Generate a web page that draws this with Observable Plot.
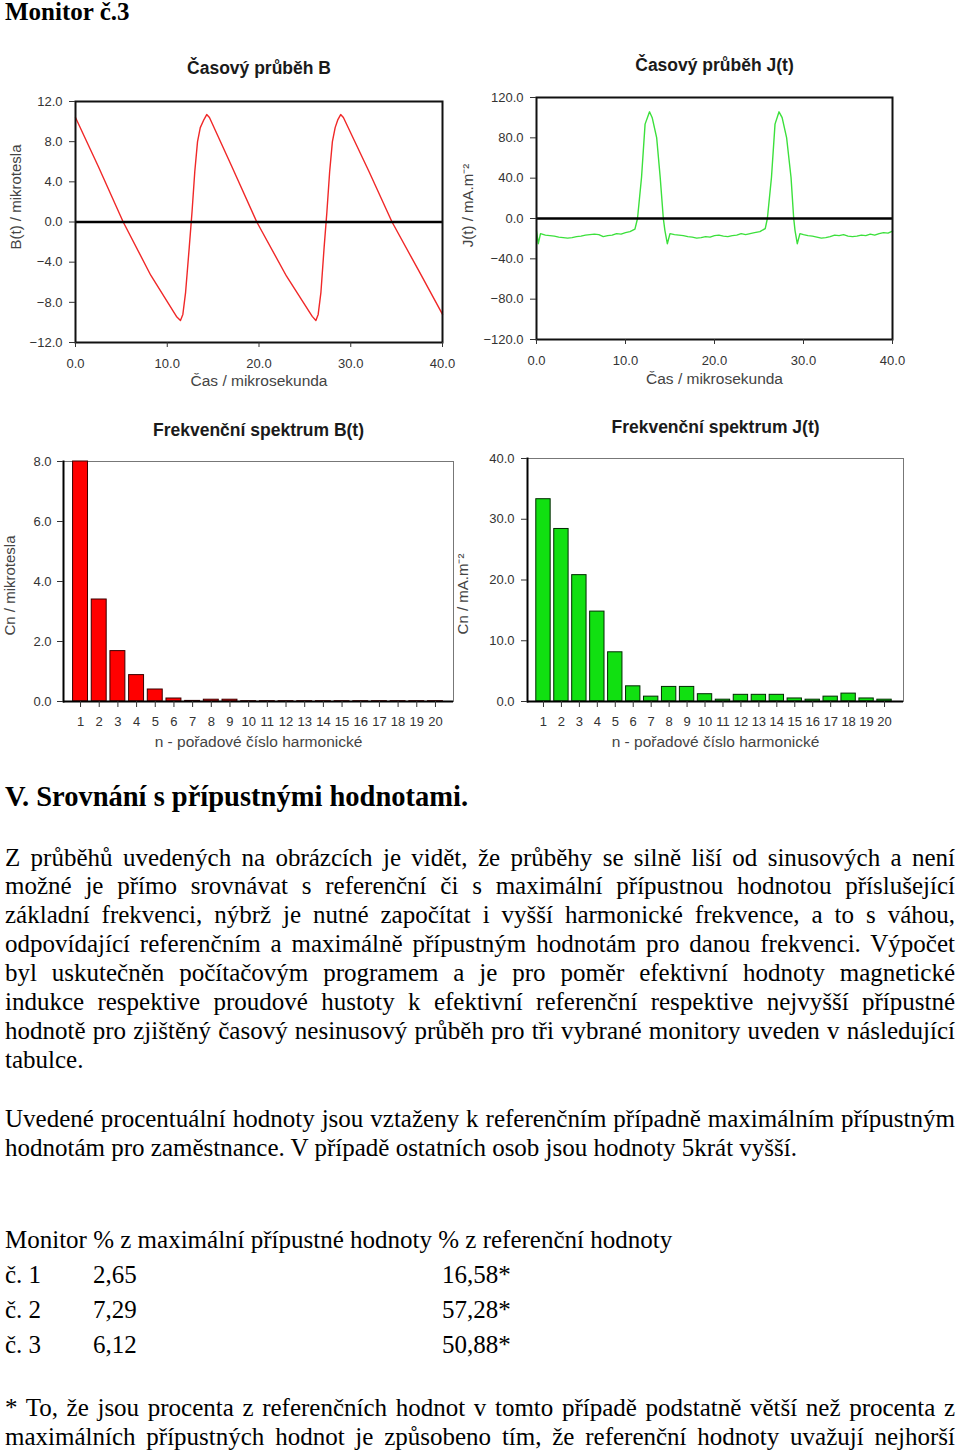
<!DOCTYPE html>
<html><head><meta charset="utf-8">
<script src="https://cdn.jsdelivr.net/npm/d3@7"></script>
<script src="https://cdn.jsdelivr.net/npm/@observablehq/plot@0.6"></script>
<style>
html,body{margin:0;padding:0;background:#fff}
body{width:960px;height:1451px;overflow:hidden;position:relative;font-family:"Liberation Serif","Times New Roman",serif;color:#000}
.chart{position:absolute}
.ln{position:absolute;left:5px;width:950px;font-size:25px;line-height:29px;height:29px;white-space:nowrap}
.j{text-align:justify;text-align-last:justify}
.b{font-weight:bold}
</style></head><body>
<div id="root"></div>
<script>
// ---------- data ----------
const bTime  = [0, 2.5, 5.2, 8.2, 11.0, 11.44, 11.7, 12.0, 12.4, 12.7, 13.0, 13.3, 13.6, 14.0, 14.3, 14.6, 17.0, 19.76, 23.0, 25.8, 26.2, 26.45, 26.75, 27.1, 27.4, 27.7, 28.0, 28.3, 28.6, 28.9, 29.2, 32.0, 34.5, 37.5, 40];
const bValue = [10.4, 5.5, 0, -5.3, -9.4, -9.8, -9.2, -7.0, -2.5, 1.0, 5.0, 8.0, 9.4, 10.2, 10.7, 10.4, 5.6, 0, -5.4, -9.4, -9.8, -9.2, -7.0, -2.5, 1.0, 5.0, 8.0, 9.4, 10.2, 10.7, 10.4, 5.0, 0, -5.0, -9.2];

const jTime  = [0, 0.2, 0.45, 1.0, 1.5, 2.0, 2.5, 3.0, 3.5, 4.0, 4.5, 5.0, 5.5, 6.0, 6.5, 7.0, 7.5, 8.0, 8.5, 9.0, 9.5, 10.0, 10.5, 11.06, 11.35, 11.8, 12.2, 12.7, 13.0, 13.5, 13.9, 14.25, 14.43, 14.7, 15.0, 15.5, 16.0, 16.5, 17.0, 17.5, 18.0, 18.5, 19.0, 19.5, 20.0, 20.5, 21.0, 21.5, 22.0, 22.5, 23.0, 23.5, 24.0, 24.5, 25.1, 25.7, 25.94, 26.4, 26.8, 27.25, 27.6, 28.1, 28.6, 28.9, 29.05, 29.3, 29.6, 30.0, 30.5, 31.0, 31.5, 32.0, 32.5, 33.0, 33.5, 34.0, 34.5, 35.0, 35.5, 36.0, 36.5, 37.0, 37.5, 38.0, 38.5, 39.0, 39.5, 40];
const jValue = [-12, -25, -15, -16.5, -17, -17.5, -18.5, -19, -19.5, -19, -18, -17.5, -16.5, -16, -15.5, -16, -18, -17, -16.5, -15, -15.5, -14, -13, -10.5, 0, 40.7, 93.6, 105.8, 100, 80.3, 40.7, 0, -12, -25, -15, -16, -16.5, -17, -18, -18.5, -19.5, -19, -18, -18.5, -17, -16.5, -17.5, -18, -17, -16.5, -15, -16, -15, -14, -13, -10, 0, 40.7, 93.6, 105.8, 100, 80.3, 40.7, 0, -12, -25, -15, -16, -17, -17.5, -18.5, -19.5, -19, -18, -16.5, -17, -16, -17.5, -18, -17.5, -16.5, -17, -15.5, -16.5, -15, -14, -14.5, -12.5];

const harmonics = d3.range(1, 21);
const cnB = [8.0, 3.4, 1.68, 0.88, 0.4, 0.1, 0.02, 0.06, 0.06, 0.01, 0.01, 0.01, 0.01, 0.01, 0.01, 0.01, 0.01, 0.01, 0.01, 0.01];
const cnJ = [33.3, 28.4, 20.8, 14.8, 8.1, 2.5, 0.8, 2.4, 2.4, 1.2, 0.3, 1.1, 1.1, 1.1, 0.5, 0.3, 0.8, 1.3, 0.5, 0.3];

const timeTicks = [0, 10, 20, 30, 40];
const bTicks = [-12, -8, -4, 0, 4, 8, 12];
const jTicks = [-120, -80, -40, 0, 40, 80, 120];
const cnBTicks = [0, 2, 4, 6, 8];
const cnJTicks = [0, 10, 20, 30, 40];

const titles = ["Časový průběh B", "Časový průběh J(t)", "Frekvenční spektrum B(t)", "Frekvenční spektrum J(t)"];
const yLabels = ["B(t) / mikrotesla", "J(t) / mA.m⁻²", "Cn / mikrotesla", "Cn / mA.m⁻²"];
const xLabels = ["Čas / mikrosekunda", "Čas / mikrosekunda", "n - pořadové číslo harmonické", "n - pořadové číslo harmonické"];

// ---------- helpers ----------
const fmt = d3.format(".1f");
const style = {fontFamily: "'Liberation Sans', Arial, sans-serif", fontSize: "13px", color: "#333", background: "transparent", overflow: "visible"};
const root = document.getElementById("root");
function place(el, left, top) {
  const d = document.createElement("div");
  d.className = "chart"; d.style.left = left + "px"; d.style.top = top + "px";
  d.appendChild(el); root.appendChild(d);
}
function labels(i, o) {
  return [
    Plot.text([titles[i]], {text: d => d, frameAnchor: "top", lineAnchor: "middle", textAnchor: "middle", dy: o.tdy, fontWeight: "bold", fontSize: 17.5, fill: "#1a1a1a"}),
    Plot.text([yLabels[i]], {text: d => d, frameAnchor: "left", lineAnchor: "middle", textAnchor: "middle", rotate: -90, dx: o.ydx, dy: o.ydy, fontSize: 15, fill: "#444"}),
    Plot.text([xLabels[i]], {text: d => d, frameAnchor: "bottom", lineAnchor: "middle", textAnchor: "middle", dy: o.xdy, fontSize: 15.5, fill: "#444"})
  ];
}

// ---------- chart 1: B(t) ----------
const bData = bTime.map((t, i) => ({t, v: bValue[i]}));
place(Plot.plot({
  width: 470, height: 360, marginLeft: 75, marginRight: 28, marginTop: 61, marginBottom: 58,
  style,
  x: {domain: [0, 40]}, y: {domain: [-12, 12]},
  marks: [
    Plot.line(bData, {x: "t", y: "v", stroke: "#f02828", strokeWidth: 1.4}),
    Plot.ruleY([0], {stroke: "#000", strokeWidth: 2.5}),
    Plot.frame({stroke: "#111", strokeWidth: 2}),
    Plot.axisX({ticks: timeTicks, tickFormat: fmt, tickSize: 5, tickPadding: 11, label: null}),
    Plot.axisY({ticks: bTicks, tickFormat: fmt, tickSize: 6, tickPadding: 7, label: null}),
    ...labels(0, {tdy: -33, ydx: -59, ydy: -25, xdy: 39})
  ]
}), 0, 40);

// ---------- chart 2: J(t) ----------
const jData = jTime.map((t, i) => ({t, v: jValue[i]}));
place(Plot.plot({
  width: 460, height: 360, marginLeft: 66, marginRight: 38, marginTop: 57, marginBottom: 61,
  style,
  x: {domain: [0, 40]}, y: {domain: [-120, 120]},
  marks: [
    Plot.line(jData, {x: "t", y: "v", stroke: "#3ce03c", strokeWidth: 1.4}),
    Plot.ruleY([0], {stroke: "#000", strokeWidth: 2.5}),
    Plot.frame({stroke: "#111", strokeWidth: 2}),
    Plot.axisX({ticks: timeTicks, tickFormat: fmt, tickSize: 5, tickPadding: 11, label: null}),
    Plot.axisY({ticks: jTicks, tickFormat: fmt, tickSize: 6, tickPadding: 7, label: null}),
    ...labels(1, {tdy: -32, ydx: -68, ydy: -13, xdy: 40})
  ]
}), 470, 40);

// ---------- chart 3: spectrum B ----------
const sB = harmonics.map((n, i) => ({n, c: cnB[i]}));
place(Plot.plot({
  width: 470, height: 350, marginLeft: 63, marginRight: 17, marginTop: 56, marginBottom: 54,
  style,
  x: {type: "band", domain: harmonics, range: [70.7, 444.3], paddingInner: 0.2, paddingOuter: 0.1, round: false},
  y: {domain: [0, 8]},
  marks: [
    Plot.frame({stroke: "#777", strokeWidth: 1}),
    Plot.barY(sB, {x: "n", y: "c", fill: "#ff0000", stroke: "#3a0000", strokeWidth: 1}),
    Plot.ruleY([0], {stroke: "#000", strokeWidth: 2}),
    Plot.frame({anchor: "left", stroke: "#000", strokeWidth: 2}),
    Plot.axisX({tickSize: 6, tickPadding: 9, label: null}),
    Plot.axisY({ticks: cnBTicks, tickFormat: fmt, tickSize: 6, tickPadding: 6, label: null}),
    ...labels(2, {tdy: -31, ydx: -53, ydy: 4, xdy: 41})
  ]
}), 0, 405);

// ---------- chart 4: spectrum J ----------
const sJ = harmonics.map((n, i) => ({n, c: cnJ[i]}));
place(Plot.plot({
  width: 470, height: 350, marginLeft: 67, marginRight: 27, marginTop: 53, marginBottom: 54,
  style,
  x: {type: "band", domain: harmonics, range: [74, 433], paddingInner: 0.2, paddingOuter: 0.1, round: false},
  y: {domain: [0, 40]},
  marks: [
    Plot.frame({stroke: "#777", strokeWidth: 1}),
    Plot.barY(sJ, {x: "n", y: "c", fill: "#11e011", stroke: "#002a00", strokeWidth: 1}),
    Plot.ruleY([0], {stroke: "#000", strokeWidth: 2}),
    Plot.frame({anchor: "left", stroke: "#000", strokeWidth: 2}),
    Plot.axisX({tickSize: 6, tickPadding: 9, label: null}),
    Plot.axisY({ticks: cnJTicks, tickFormat: fmt, tickSize: 6, tickPadding: 7, label: null}),
    ...labels(3, {tdy: -31, ydx: -64, ydy: 14, xdy: 41})
  ]
}), 460, 405);

// ---------- text ----------
function line(text, top, cls, left, extra) {
  const d = document.createElement("div");
  d.className = "ln " + (cls || "");
  d.style.top = top + "px";
  if (left != null) { d.style.left = left + "px"; d.style.width = "auto"; }
  if (extra) Object.assign(d.style, extra);
  d.textContent = text;
  root.appendChild(d);
}
line("Monitor č.3", -3, "b", null, {fontSize: "25px", lineHeight: "30px", height: "30px"});
line("V. Srovnání s přípustnými hodnotami.", 782, "b", null, {fontSize: "28.5px", lineHeight: "30px", height: "30px"});

const p1 = [
  "Z průběhů uvedených na obrázcích je vidět, že průběhy se silně liší od sinusových a není",
  "možné je přímo srovnávat s referenční či s maximální přípustnou hodnotou příslušející",
  "základní frekvenci, nýbrž je nutné započítat i vyšší harmonické frekvence, a to s váhou,",
  "odpovídající referenčním a maximálně přípustným hodnotám pro danou frekvenci. Výpočet",
  "byl uskutečněn počítačovým programem a je pro poměr efektivní hodnoty magnetické",
  "indukce respektive proudové hustoty k efektivní referenční respektive nejvyšší přípustné",
  "hodnotě pro zjištěný časový nesinusový průběh pro tři vybrané monitory uveden v následující",
  "tabulce."
];
p1.forEach((t, i) => line(t, 842.5 + i * 28.9, i < p1.length - 1 ? "j" : ""));
const p2 = [
  "Uvedené procentuální hodnoty jsou vztaženy k referenčním případně maximálním přípustným",
  "hodnotám pro zaměstnance. V případě ostatních osob jsou hodnoty 5krát vyšší."
];
p2.forEach((t, i) => line(t, 1103.5 + i * 29, i === 0 ? "j" : ""));

line("Monitor % z maximální přípustné hodnoty % z referenční hodnoty", 1224.5, "");
const monitors = ["č. 1", "č. 2", "č. 3"];
const pctMax = ["2,65", "7,29", "6,12"];
const pctRef = ["16,58*", "57,28*", "50,88*"];
monitors.forEach((m, i) => {
  const top = 1259.5 + i * 35;
  line(m, top, "", 5);
  line(pctMax[i], top, "", 93);
  line(pctRef[i], top, "", 442);
});
const foot = [
  "* To, že jsou procenta z referenčních hodnot v tomto případě podstatně větší než procenta z",
  "maximálních přípustných hodnot je způsobeno tím, že referenční hodnoty uvažují nejhorší"
];
foot.forEach((t, i) => line(t, 1392.5 + i * 29, "j"));
</script>
</body></html>
